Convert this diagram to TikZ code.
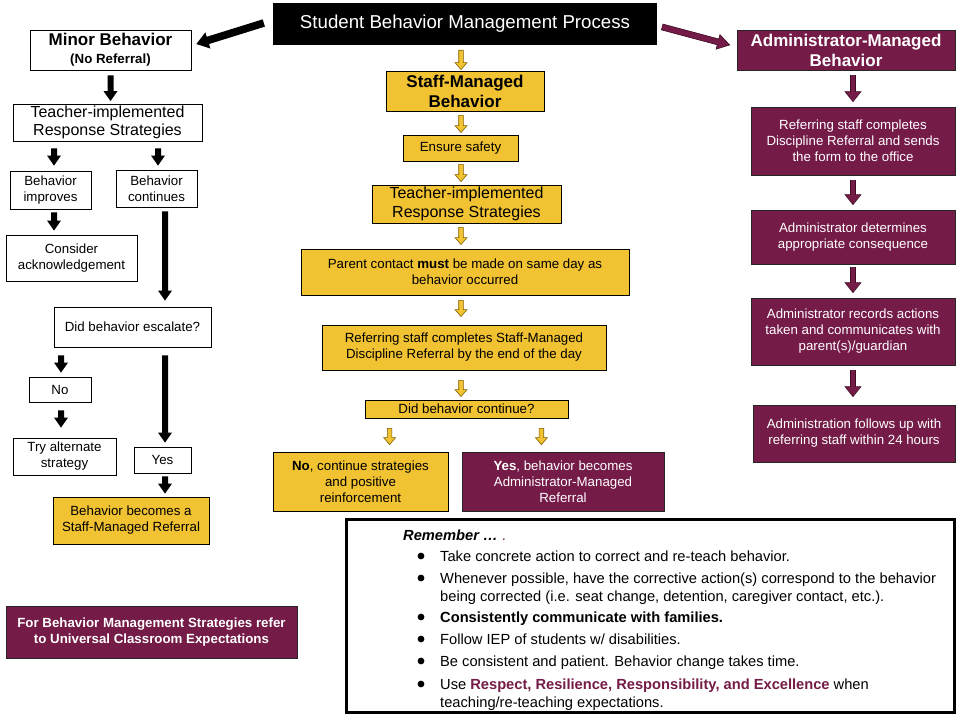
\documentclass[tikz,border=0pt]{standalone}
\usepackage{fontspec}
\setmainfont{Liberation Sans}
\usetikzlibrary{calc}

\definecolor{staffgold}{HTML}{F1C232}
\definecolor{adminplum}{HTML}{741B47}
\definecolor{goldedge}{HTML}{7F6000}
\definecolor{plumedge}{HTML}{3D0C24}

\newcommand{\fsize}[2]{\fontsize{#1}{#2}\selectfont}

% block arrow from #2 to #3, sizes taken from the style #1
\newcommand{\blockarrow}[3]{%
  \path[#1] let \p1=(#2), \p2=(#3), \p3=($(\p2)!\headlen!(\p1)$) in
    ($(\p1)!\shafthalf!90:(\p2)$) -- ($(\p3)!\shafthalf!90:(\p2)$) -- ($(\p3)!\headhalf!90:(\p2)$) -- (\p2)
    -- ($(\p3)!\headhalf!-90:(\p2)$) -- ($(\p3)!\shafthalf!-90:(\p2)$) -- ($(\p1)!\shafthalf!-90:(\p2)$) -- cycle;}

\tikzset{
  shaft half/.store in=\shafthalf, shaft half=3pt,
  head half/.store in=\headhalf, head half=7pt,
  head len/.store in=\headlen, head len=10pt,
  smalltext/.style={font=\fsize{13.3}{16}},
  headtext/.style={font=\fsize{17}{20}\bfseries},
  bigtext/.style={font=\fsize{16}{18.5}},
  plainbox/.style={draw=black, line width=0.8pt, fill=white, align=center, inner sep=0pt},
  staffbox/.style={draw=black, line width=0.8pt, fill=staffgold, align=center, inner sep=0pt},
  adminbox/.style={draw=black!85, line width=0.8pt, fill=adminplum, text=white, align=center, inner sep=0pt},
  titlebox/.style={fill=black, text=white, inner sep=0pt, font=\fsize{18.67}{22}},
  blkarr/.style={fill=black, shaft half=3pt, head half=7pt, head len=10pt},
  bigarr/.style={fill=black, shaft half=3.8pt, head half=8.5pt, head len=12pt},
  ylwarr/.style={fill=staffgold, draw=goldedge, line width=0.6pt, shaft half=2.3pt, head half=6pt, head len=7pt},
  purarr/.style={fill=adminplum, draw=plumedge, line width=0.6pt, shaft half=2.5pt, head half=8pt, head len=10pt},
  remtext/.style={anchor=base west, inner sep=0pt, align=left, font=\fsize{14.67}{17.5}},
}

\begin{document}
\begin{tikzpicture}[x=1pt,y=-1pt]
\fill[white] (0,0) rectangle (960,720);
\useasboundingbox (0,0) rectangle (960,720);

% title
\node[titlebox, minimum width=384pt, minimum height=42pt] (title) at (465,24) {Student Behavior Management Process};

% minor behavior
\node[plainbox, font=\fsize{13.3}{18}\bfseries, minimum width=161pt, minimum height=40pt] (minor) at (110.5,50)
  {{\fsize{17}{19}Minor Behavior}\\(No Referral)};
\node[plainbox, bigtext, minimum width=189pt, minimum height=37pt] (teachL) at (107.5,122.5) {Teacher-implemented\\Response Strategies};
\node[plainbox, smalltext, minimum width=81pt, minimum height=38pt] (improves) at (50.5,190) {Behavior\\improves};
\node[plainbox, smalltext, minimum width=81pt, minimum height=37pt] (continues) at (156.5,188.5) {Behavior\\continues};
\node[plainbox, smalltext, minimum width=131pt, minimum height=46pt] (ack) at (71.5,258) {Consider\\acknowledgement};
\node[plainbox, smalltext, minimum width=157pt, minimum height=40pt] (escalate) at (132.5,327) {Did behavior escalate?};
\node[plainbox, smalltext, minimum width=62pt, minimum height=25pt] (no) at (60,389.5) {No};
\node[plainbox, smalltext, minimum width=103pt, minimum height=37pt] (alt) at (64.5,456.5) {Try alternate\\strategy};
\node[plainbox, smalltext, minimum width=57pt, minimum height=26pt] (yes) at (162.5,460) {Yes};
\node[staffbox, smalltext, minimum width=156pt, minimum height=47pt] (staffref) at (131,520.5) {Behavior becomes a\\Staff-Managed Referral};
\node[adminbox, font=\fsize{13.3}{16}\bfseries, minimum width=291pt, minimum height=52pt] (strategies) at (151.5,632)
  {For Behavior Management Strategies refer\\to Universal Classroom Expectations};

% staff-managed behavior
\node[staffbox, headtext, minimum width=158pt, minimum height=40pt] (staffm) at (465,91) {Staff-Managed\\Behavior};
\node[staffbox, smalltext, minimum width=115pt, minimum height=26pt] (safety) at (460.5,148) {Ensure safety};
\node[staffbox, bigtext, minimum width=189pt, minimum height=38pt] (teachM) at (466.5,204) {Teacher-implemented\\Response Strategies};
\node[staffbox, smalltext, minimum width=328pt, minimum height=46pt] (parent) at (465,272)
  {Parent contact \textbf{must} be made on same day as\\behavior occurred};
\node[staffbox, smalltext, minimum width=284pt, minimum height=45pt] (refstaff) at (464,347.5)
  {Referring staff completes Staff-Managed\\Discipline Referral by the end of the day};
\node[staffbox, smalltext, minimum width=203pt, minimum height=18pt] (cont) at (466.5,409) {Did behavior continue?};
\node[staffbox, smalltext, minimum width=175pt, minimum height=59pt] (nocont) at (360.5,481.5)
  {\textbf{No}, continue strategies\\and positive\\reinforcement};
\node[adminbox, smalltext, minimum width=202pt, minimum height=59pt] (yescont) at (563,481.5)
  {\textbf{Yes}, behavior becomes\\Administrator-Managed\\Referral};

% administrator-managed behavior
\node[adminbox, headtext, minimum width=218pt, minimum height=40pt] (admin) at (846,50) {Administrator-Managed\\Behavior};
\node[adminbox, smalltext, minimum width=204pt, minimum height=68pt] (send) at (853,141)
  {Referring staff completes\\Discipline Referral and sends\\the form to the office};
\node[adminbox, smalltext, minimum width=204pt, minimum height=54pt] (consequence) at (853,237)
  {Administrator determines\\appropriate consequence};
\node[adminbox, smalltext, minimum width=204pt, minimum height=67pt] (records) at (853,331.5)
  {Administrator records actions\\taken and communicates with\\parent(s)/guardian};
\node[adminbox, smalltext, minimum width=202pt, minimum height=57pt] (followup) at (854,433.5)
  {Administration follows up with\\referring staff within 24 hours};

% black arrows
\blockarrow{bigarr}{$(title.west)+(-9,-1)$}{$(minor.east)+(5,-6)$}
\blockarrow{blkarr}{$(minor.south)+(0,5)$}{$(minor.south |- teachL.north)+(0,-2.5)$}
\blockarrow{blkarr}{$(improves.north |- teachL.south)+(3.5,7)$}{$(improves.north)+(3.5,-5)$}
\blockarrow{blkarr}{$(continues.north |- teachL.south)+(1.5,7)$}{$(continues.north)+(1.5,-4)$}
\blockarrow{blkarr}{$(improves.south)+(3.5,3)$}{$(improves.south |- ack.north)+(3.5,-4)$}
\blockarrow{blkarr}{$(continues.south)+(8.5,4)$}{$(continues.south |- escalate.north)+(8.5,-6)$}
\blockarrow{blkarr}{$(no.north |- escalate.south)+(1,8)$}{$(no.north)+(1,-4)$}
\blockarrow{blkarr}{$(no.south)+(1,8)$}{$(no.south |- alt.north)+(1,-10)$}
\blockarrow{blkarr}{$(yes.north |- escalate.south)+(2.5,8)$}{$(yes.north)+(2.5,-4)$}
\blockarrow{blkarr}{$(yes.south)+(2.5,3)$}{$(yes.south |- staffref.north)+(2.5,-3)$}

% yellow arrows
\blockarrow{ylwarr}{$(title.south)+(-4,5)$}{$(title.south |- staffm.north)+(-4,-1)$}
\blockarrow{ylwarr}{$(staffm.south)+(-4,4)$}{$(staffm.south |- safety.north)+(-4,-2)$}
\blockarrow{ylwarr}{$(safety.south)+(0.5,3)$}{$(safety.south |- teachM.north)+(0.5,-3)$}
\blockarrow{ylwarr}{$(teachM.south)+(-5.5,4)$}{$(teachM.south |- parent.north)+(-5.5,-4)$}
\blockarrow{ylwarr}{$(parent.south)+(-4,5)$}{$(parent.south |- refstaff.north)+(-4,-8)$}
\blockarrow{ylwarr}{$(refstaff.south)+(-3,10)$}{$(refstaff.south |- cont.north)+(-3,-3)$}
\blockarrow{ylwarr}{$(cont.south west)+(25,10)$}{$(cont.south west |- nocont.north)+(25,-7)$}
\blockarrow{ylwarr}{$(cont.south east)+(-27,10)$}{$(cont.south east |- yescont.north)+(-27,-7)$}

% purple arrows
\blockarrow{purarr, shaft half=3pt, head half=7.5pt, head len=12pt}{$(title.east)+(5,3)$}{$(admin.west)+(-7,-5)$}
\blockarrow{purarr}{$(send.north |- admin.south)+(0,5)$}{$(send.north)+(0,-5)$}
\blockarrow{purarr}{$(send.south)+(0,5)$}{$(consequence.north)+(0,-5)$}
\blockarrow{purarr}{$(consequence.south)+(0,3)$}{$(records.north)+(0,-5)$}
\blockarrow{purarr}{$(records.south)+(0,5)$}{$(records.south |- followup.north)+(0,-8)$}

% remember box
\node[draw, line width=3pt, minimum width=608pt, minimum height=193pt, inner sep=0pt] (remember) at (650.5,616) {};
\node[remtext] (remhead) at (403,540) {\bfseries\itshape Remember …\textcolor{adminplum}{\normalfont\ .}};
\foreach \y in {556,578,617,639,661,684}
  \fill (421,\y) circle (3.4pt);
\node[remtext] (rem1) at (440,561.5) {Take concrete action to correct and re-teach behavior.};
\node[remtext] (rem2) at (440,601) {Whenever possible, have the corrective action(s) correspond to the behavior\\being corrected (i.e. seat change, detention, caregiver contact, etc.).};
\node[remtext] (rem3) at (440,622.5) {\textbf{Consistently communicate with families.}};
\node[remtext] (rem4) at (440,644.5) {Follow IEP of students w/ disabilities.};
\node[remtext] (rem5) at (440,666.5) {Be consistent and patient. Behavior change takes time.};
\node[remtext] (rem6) at (440,707) {Use \textbf{\textcolor{adminplum}{Respect, Resilience, Responsibility, and Excellence}} when\\teaching/re-teaching expectations.};
\end{tikzpicture}
\end{document}
